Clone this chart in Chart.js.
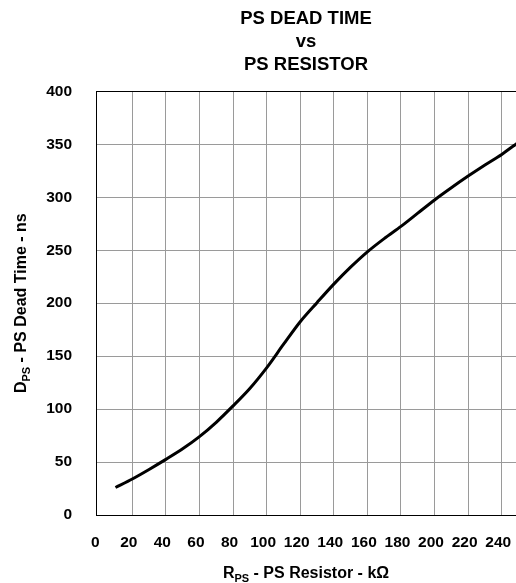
<!DOCTYPE html>
<html>
<head>
<meta charset="utf-8">
<script src="https://cdn.jsdelivr.net/npm/chart.js@4"></script>
<style>
html,body{margin:0;padding:0;background:#fff;}
#c{display:block;}
</style>
</head>
<body>
<canvas id="c" width="516" height="583"></canvas>
<script>
// Data
const resistorKOhm = [10,20,30,40,50,60,70,80,90,100,110,120,130,140,150,160,170,180,190,200,210,220,230,240,250];
const deadTimeNs = [26,34,43,52.5,62.5,74,87.5,103,119.5,139,161,182.5,200.5,218,234,248.5,261,272.5,285,297.5,309,320,330.5,340.5,352];
const xTickValues = [0,20,40,60,80,100,120,140,160,180,200,220,240];
const yTickValues = [0,50,100,150,200,250,300,350,400];
const titleLines = ['PS DEAD TIME','vs','PS RESISTOR'];

const FONT = '"Liberation Sans", Arial, Helvetica, sans-serif';

const bgPlugin = {
  id: 'bg',
  beforeDraw(chart){
    const c = chart.ctx;
    c.save(); c.fillStyle = '#fff'; c.fillRect(0,0,chart.width,chart.height); c.restore();
  }
};

// axis titles with subscripts
function drawSubText(c, parts, cx, cy, rotate){
  const mainFont = 'bold 16px ' + FONT;
  const subFont = 'bold 11px ' + FONT;
  let total = 0;
  parts.forEach(p => { c.font = p.sub ? subFont : mainFont; p.w = c.measureText(p.t).width; total += p.w; });
  c.save();
  c.translate(cx, cy);
  if (rotate) c.rotate(-Math.PI/2);
  c.fillStyle = '#000';
  c.textBaseline = 'alphabetic';
  c.textAlign = 'left';
  let x = -total/2;
  parts.forEach(p => {
    c.font = p.sub ? subFont : mainFont;
    c.fillText(p.t, x, p.sub ? 4 : 0);
    x += p.w;
  });
  c.restore();
}

const axisTitlePlugin = {
  id: 'axisTitles',
  afterDraw(chart){
    const c = chart.ctx;
    const a = chart.chartArea;
    drawSubText(c, [{t:'R'},{t:'PS',sub:true},{t:' - PS Resistor - kΩ'}], (a.left + a.right)/2, 578, false);
    drawSubText(c, [{t:'D'},{t:'PS',sub:true},{t:' - PS Dead Time - ns'}], 25.5, (a.top + a.bottom)/2, true);
  }
};

new Chart(document.getElementById('c'), {
  type: 'line',
  data: {
    datasets: [{
      data: resistorKOhm.map((x,i) => ({x, y: deadTimeNs[i]})),
      borderColor: '#000',
      borderWidth: 3,
      pointRadius: 0,
      tension: 0.3,
      fill: false
    }]
  },
  options: {
    responsive: false,
    animation: false,
    devicePixelRatio: 1,
    layout: { padding: { left: 0, right: 0, top: 0, bottom: 0 } },
    plugins: {
      legend: { display: false },
      tooltip: { enabled: false },
      title: {
        display: true,
        text: titleLines,
        fullSize: false,
        color: '#000',
        font: { family: FONT, size: 18.5, weight: 'bold', lineHeight: 1.25 },
        padding: { top: 7, bottom: 15 }
      }
    },
    scales: {
      x: {
        type: 'linear',
        min: -1.6,
        max: 248.5,
        afterBuildTicks(scale){ scale.ticks = xTickValues.map(v => ({value: v})); },
        afterFit(scale){ scale.height = 68; scale.paddingLeft = 0; scale.paddingRight = 0; },
        grid: {
          drawTicks: false,
          color: ctx => (ctx.tick && ctx.tick.value === 0) ? 'rgba(0,0,0,0)' : '#9a9a9a',
          lineWidth: 1
        },
        border: { color: '#000', width: 1 },
        ticks: {
          color: '#000',
          padding: 18,
          labelOffset: -3.5,
          maxRotation: 0,
          autoSkip: false,
          font: { family: FONT, size: 15.5, weight: 'bold' }
        }
      },
      y: {
        type: 'linear',
        min: 0,
        max: 400,
        afterBuildTicks(scale){ scale.ticks = yTickValues.map(v => ({value: v})); },
        afterFit(scale){ scale.width = 96; scale.paddingTop = 0; scale.paddingBottom = 0; },
        grid: {
          drawTicks: false,
          color: ctx => (ctx.tick && ctx.tick.value === 400) ? '#000' : '#9a9a9a',
          lineWidth: 1
        },
        border: { color: '#000', width: 1 },
        ticks: {
          color: '#000',
          padding: 24,
          font: { family: FONT, size: 15.5, weight: 'bold' }
        }
      }
    }
  },
  plugins: [bgPlugin, axisTitlePlugin]
});
</script>
</body>
</html>
